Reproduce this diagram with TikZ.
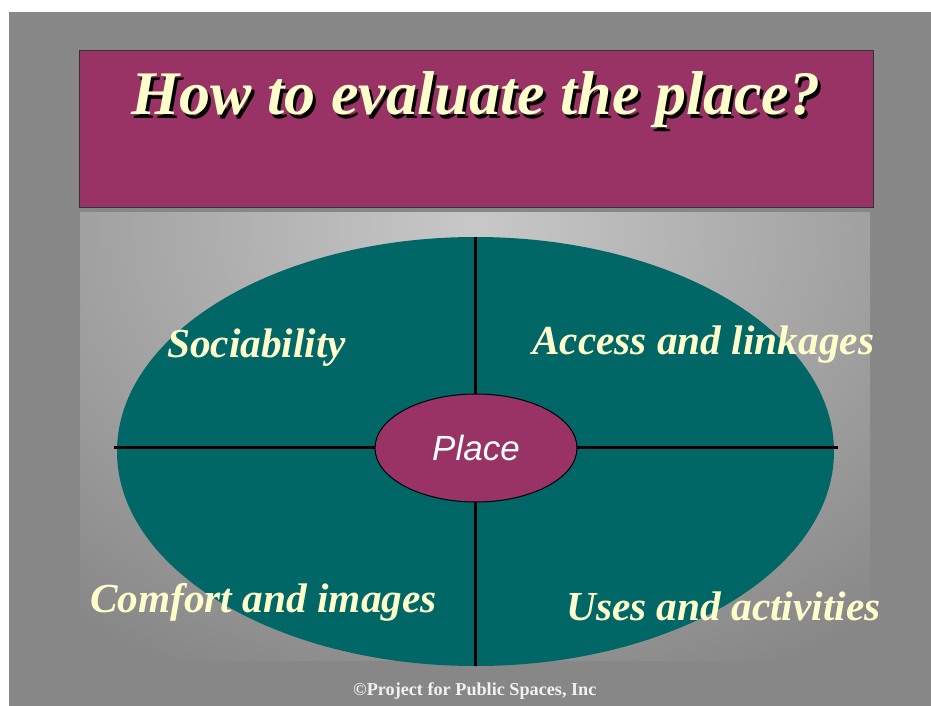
\documentclass[tikz,border=0pt]{standalone}
\usepackage{fontspec}
\setmainfont{Liberation Serif}
\newfontfamily\arialfont{Liberation Sans}
\usetikzlibrary{shapes.geometric}
\definecolor{bggray}{HTML}{878787}
\definecolor{bglight}{HTML}{C8C8C8}
\definecolor{plum}{HTML}{993366}
\definecolor{tealfield}{HTML}{006666}
\definecolor{cream}{HTML}{FFFFCC}
\definecolor{copygray}{HTML}{F2F2F2}
\tikzset{
  titlefont/.style={font=\bfseries\itshape\fontsize{62}{62}\selectfont},
  quadlabel/.style={anchor=base west, text=cream, inner sep=0, font=\bfseries\itshape\fontsize{41.3}{41.3}\selectfont},
  divider/.style={line width=3pt, black},
}
\begin{document}
\begin{tikzpicture}[x=1pt,y=-1pt]
\useasboundingbox (0,0) rectangle (931,706);
\fill[white] (0,0) rectangle (931,706);
\fill[bggray] (9,12) rectangle (931,706);
\begin{scope}
  \clip (80,212) rectangle (870,660);
  \shade[inner color=bglight, outer color=bggray] (475,225) ellipse [x radius=650, y radius=500];
\end{scope}
% title box
\node[draw=black!80, line width=1pt, fill=plum, minimum width=794pt, minimum height=156pt, inner sep=0] (titlebox) at (476,129) {};
\node[titlefont, text=black, anchor=base, inner sep=0] (titleshadow) at (479,118) {How to evaluate the place?};
\node[titlefont, text=cream, anchor=base, inner sep=0] (title) at (476,115) {How to evaluate the place?};
% field
\node[ellipse, fill=tealfield, minimum width=717pt, minimum height=429pt, inner sep=0] (field) at (475.5,451.5) {};
\coordinate (hl) at (114,447);
\coordinate (hr) at (838,447);
\coordinate (vt) at (475,237);
\coordinate (vb) at (475,666);
\draw[divider] (vt) -- (vb);
\draw[divider] (hl) -- (hr);
\node[ellipse, draw=black, line width=1pt, fill=plum, minimum width=202pt, minimum height=108pt, inner sep=0, text=white, font=\arialfont\itshape\fontsize{35}{35}\selectfont] (place) at (476,448) {Place};
% labels
\node[quadlabel] (soc) at (167,357) {Sociability};
\node[quadlabel] (acc) at (532,354) {Access and linkages};
\node[quadlabel] (com) at (90,612) {Comfort and images};
\node[quadlabel] (use) at (566,620) {Uses and activities};
\node[anchor=base west, inner sep=0, text=copygray, font=\bfseries\fontsize{18.2}{18.2}\selectfont] (copy) at (353,695) {©Project for Public Spaces, Inc};
\end{tikzpicture}
\end{document}
